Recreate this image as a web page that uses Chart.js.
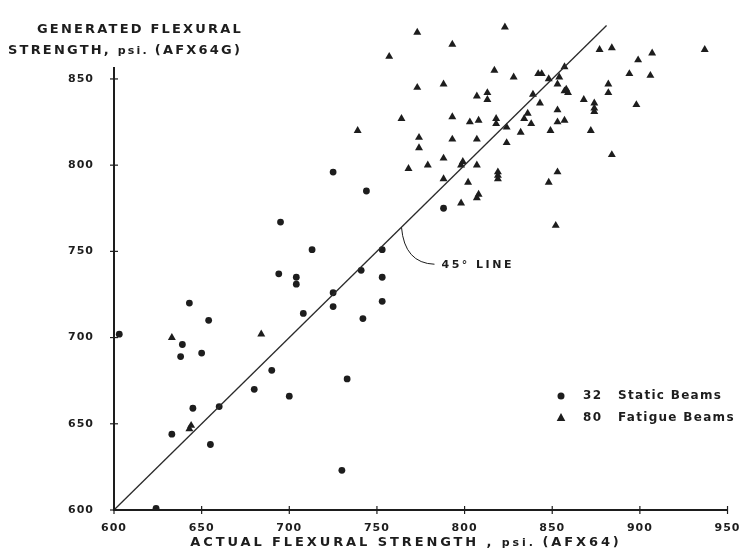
<!DOCTYPE html>
<html>
<head>
<meta charset="utf-8">
<script src="https://cdn.jsdelivr.net/npm/chart.js@4.4.1/dist/chart.umd.min.js"></script>
<style>
  html, body { margin: 0; padding: 0; background: #fff; }
</style>
</head>
<body>
<canvas id="chart" width="743" height="553"></canvas>
<script>
// --- Data ---
const xTicks = [600, 650, 700, 750, 800, 850, 900, 950];
const yTicks = [600, 650, 700, 750, 800, 850];

// 32 static beams: [actual, generated]
const staticBeams = [
  [603, 702], [643, 720], [654, 710], [639, 696], [638, 689], [650, 691],
  [690, 681], [680, 670], [700, 666], [708, 714], [725, 718], [725, 726],
  [704, 731], [704, 735], [694, 737], [713, 751], [695, 767], [725, 796],
  [744, 785], [733, 676], [660, 660], [645, 659], [633, 644], [655, 638],
  [730, 623], [624, 601], [753, 751], [741, 739], [753, 735], [753, 721],
  [742, 711], [788, 775]
];

// 80 fatigue beams: [actual, generated]
const fatigueBeams = [
  [773, 877], [793, 870], [757, 863], [823, 880], [817, 855], [828, 851],
  [773, 845], [788, 847], [807, 840], [813, 842], [813, 838], [764, 827],
  [739, 820], [793, 828], [803, 825], [808, 826], [818, 827], [818, 824],
  [824, 822], [832, 819], [834, 827], [774, 816], [774, 810], [793, 815],
  [807, 815], [824, 813], [768, 798], [779, 800], [788, 804], [798, 800],
  [807, 800], [788, 792], [819, 796], [819, 794], [802, 790], [807, 781],
  [798, 778], [842, 853], [844, 853], [857, 857], [848, 850], [854, 851],
  [853, 847], [857, 843], [859, 842], [839, 841], [843, 836], [836, 830],
  [838, 824], [853, 832], [853, 825], [857, 826], [849, 820], [868, 838],
  [874, 836], [874, 831], [872, 820], [877, 867], [884, 868], [882, 847],
  [882, 842], [899, 861], [894, 853], [907, 865], [906, 852], [898, 835],
  [937, 867], [884, 806], [853, 796], [848, 790], [852, 765], [633, 700],
  [643, 647], [684, 702], [799, 802], [808, 783], [644, 649], [874, 833],
  [819, 792], [858, 844]
];

// 45 degree reference line
const lineEnds = [[600, 600], [881, 881]];
const yAxisTop = 857;
const leaderAt = 764;

const legendItems = [
  { count: '32', label: 'Static Beams', style: 'circle' },
  { count: '80', label: 'Fatigue Beams', style: 'triangle' }
];

const ink = '#1d1d1d';
const FONT = '"DejaVu Sans", sans-serif';
const BIG = `bold 13px ${FONT}`;
const SMALL = `bold 11px ${FONT}`;

const toPts = arr => arr.map(([x, y]) => ({ x, y }));

function marker(ctx, style, cx, cy) {
  ctx.beginPath();
  if (style === 'circle') {
    ctx.arc(cx, cy, 3.5, 0, Math.PI * 2);
  } else {
    ctx.moveTo(cx, cy - 5);
    ctx.lineTo(cx + 4.3, cy + 3);
    ctx.lineTo(cx - 4.3, cy + 3);
    ctx.closePath();
  }
  ctx.fill();
}

// draw text made of runs with different fonts, left to right
function runsWidth(ctx, runs) {
  return runs.reduce((w, r) => { ctx.font = r[1]; return w + ctx.measureText(r[0]).width; }, 0);
}
function drawRuns(ctx, runs, x, y) {
  runs.forEach(r => {
    ctx.font = r[1];
    ctx.fillText(r[0], x, y);
    x += ctx.measureText(r[0]).width;
  });
}

const decor = {
  id: 'decor',
  beforeDraw(chart) {
    const { ctx } = chart;
    ctx.save();
    ctx.fillStyle = '#fff';
    ctx.fillRect(0, 0, chart.width, chart.height);
    ctx.restore();
    ctx.letterSpacing = '1px'; // tick labels
  },
  afterDraw(chart) {
    const { ctx, scales: { x, y } } = chart;
    ctx.save();
    ctx.strokeStyle = ink;
    ctx.fillStyle = ink;

    // axes (y axis stops just above 850)
    const x0 = x.getPixelForValue(600), y0 = y.getPixelForValue(600);
    ctx.lineWidth = 2;
    ctx.beginPath();
    ctx.moveTo(x0, y.getPixelForValue(yAxisTop));
    ctx.lineTo(x0, y0);
    ctx.lineTo(x.getPixelForValue(950), y0);
    ctx.stroke();

    ctx.lineWidth = 1.2;
    yTicks.forEach(v => {
      const py = y.getPixelForValue(v);
      ctx.beginPath(); ctx.moveTo(x0 - 4, py); ctx.lineTo(x0 + 4, py); ctx.stroke();
    });
    xTicks.forEach(v => {
      const px = x.getPixelForValue(v);
      ctx.beginPath(); ctx.moveTo(px, y0 - 4); ctx.lineTo(px, y0 + 4); ctx.stroke();
    });

    // axis titles
    ctx.textBaseline = 'middle';
    ctx.textAlign = 'left';
    ctx.letterSpacing = '2.2px';
    ctx.font = BIG;
    ctx.fillText('GENERATED FLEXURAL', 37, 30);
    drawRuns(ctx, [['STRENGTH, ', BIG], ['psi. ', SMALL], ['(AFX64G)', BIG]], 8, 51);

    ctx.letterSpacing = '2.9px';
    const xt = [['ACTUAL FLEXURAL STRENGTH , ', BIG], ['psi. ', SMALL], ['(AFX64)', BIG]];
    drawRuns(ctx, xt, 406 - runsWidth(ctx, xt) / 2, 543);

    // legend
    ctx.font = `bold 12px ${FONT}`;
    ctx.letterSpacing = '1.3px';
    legendItems.forEach((it, i) => {
      const ly = 396 + i * 22;
      marker(ctx, it.style, 561, ly);
      ctx.fillText(it.count, 583, ly);
      ctx.fillText(it.label, 618, ly);
    });

    // "45° LINE" leader
    const ax = x.getPixelForValue(leaderAt), ay = y.getPixelForValue(leaderAt);
    ctx.lineWidth = 1;
    ctx.beginPath();
    ctx.moveTo(ax, ay);
    ctx.quadraticCurveTo(ax + 3, ay + 36, ax + 33, ay + 37);
    ctx.stroke();
    ctx.font = SMALL;
    ctx.letterSpacing = '2.5px';
    ctx.fillText('45° LINE', ax + 40, ay + 38);

    ctx.restore();
  }
};

new Chart(document.getElementById('chart'), {
  type: 'scatter',
  data: {
    datasets: [
      {
        label: '45° line',
        data: toPts(lineEnds),
        showLine: true,
        borderColor: '#2a2a2a',
        borderWidth: 1.3,
        pointRadius: 0
      },
      {
        label: 'Static Beams',
        data: toPts(staticBeams),
        pointStyle: 'circle',
        pointRadius: 3.4,
        backgroundColor: ink,
        borderColor: ink,
        borderWidth: 0
      },
      {
        label: 'Fatigue Beams',
        data: toPts(fatigueBeams),
        pointStyle: 'triangle',
        pointRadius: 4.6,
        backgroundColor: ink,
        borderColor: ink,
        borderWidth: 0
      }
    ]
  },
  options: {
    responsive: false,
    animation: false,
    devicePixelRatio: 1,
    layout: { padding: { left: 8, right: 13, top: 11, bottom: 0 } },
    plugins: {
      legend: { display: false },
      tooltip: { enabled: false }
    },
    scales: {
      x: {
        type: 'linear',
        min: 600,
        max: 950,
        afterBuildTicks: s => { s.ticks = xTicks.map(v => ({ value: v })); },
        afterFit: s => { s.height = 43; },
        grid: { display: false },
        border: { display: false },
        ticks: {
          color: ink,
          font: { family: FONT, size: 11, weight: 'bold' },
          padding: 4,
          maxRotation: 0,
          autoSkip: false
        }
      },
      y: {
        type: 'linear',
        min: 600,
        max: 885,
        afterBuildTicks: s => { s.ticks = yTicks.map(v => ({ value: v })); },
        afterFit: s => { s.width = 106; },
        grid: { display: false },
        border: { display: false },
        ticks: {
          color: ink,
          font: { family: FONT, size: 11, weight: 'bold' },
          padding: 12,
          autoSkip: false
        }
      }
    }
  },
  plugins: [decor]
});
</script>
</body>
</html>
